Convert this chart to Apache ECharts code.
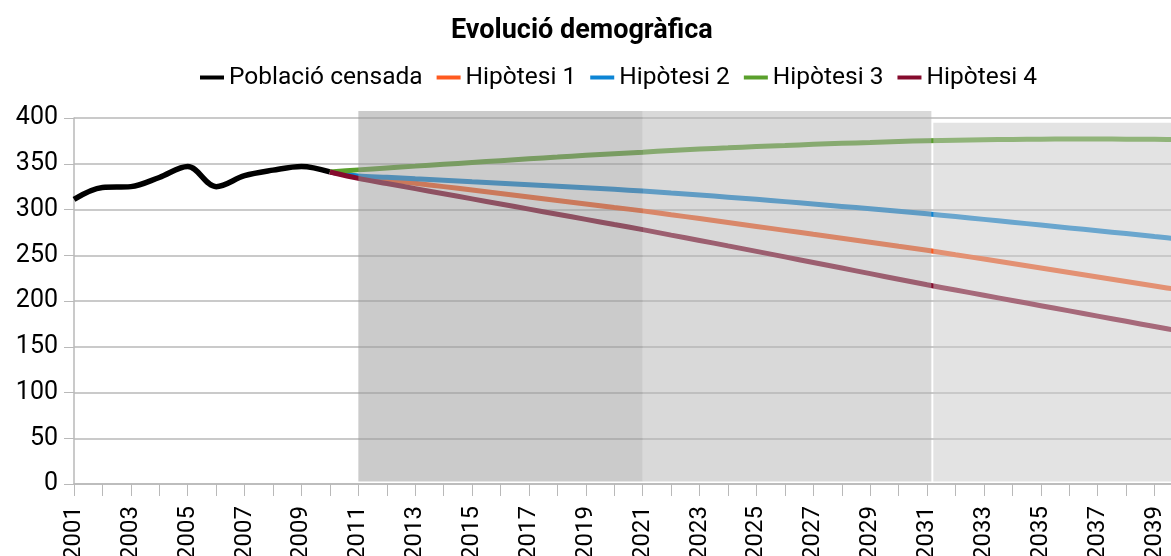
<!DOCTYPE html>
<html>
<head>
<meta charset="utf-8">
<script src="https://cdn.jsdelivr.net/npm/echarts@6/dist/echarts.min.js"></script>
<style>
html, body { margin: 0; padding: 0; background: #fff; }
#chart { width: 1171px; height: 556px; }
</style>
</head>
<body>
<div id="chart"></div>
<script>
// anys de l'eix
const years = ['2001', '2002', '2003', '2004', '2005', '2006', '2007', '2008', '2009', '2010',
  '2011', '2012', '2013', '2014', '2015', '2016', '2017', '2018', '2019', '2020',
  '2021', '2022', '2023', '2024', '2025', '2026', '2027', '2028', '2029', '2030',
  '2031', '2032', '2033', '2034', '2035', '2036', '2037', '2038', '2039', '2040']

// població censada 2001-2010
const poblacio = [311, 324, 325, 335, 347, 325, 337, 343, 347, 341]

// hipòtesis 2010-2040
const hipotesi1 = [341, 336, 332.4, 328.7, 325, 321.3, 317.5, 313.7, 309.9, 306.1, 302.3,
  298.5, 294.3, 290.1, 285.8, 281.5, 277.2, 272.9, 268.6, 264.2, 259.8,
  255.4, 250.6, 245.8, 240.9, 236, 231.1, 226.2, 221.3, 216.4, 211.5]
const hipotesi2 = [341, 336.7, 335.2, 333.6, 332, 330.4, 328.8, 327.1, 325.4, 323.7, 322,
  320.2, 318, 315.8, 313.5, 311.1, 308.6, 306, 303.4, 300.8, 298.1,
  295.3, 292.3, 289.2, 286.1, 283, 279.9, 276.8, 273.7, 270.5, 267.3]
const hipotesi3 = [341, 343.3, 345.4, 347.4, 349.4, 351.4, 353.4, 355.4, 357.3, 359.2, 361,
  362.7, 364.4, 366, 367.4, 368.8, 370, 371.2, 372.3, 373.3, 374.3,
  375.2, 375.8, 376.3, 376.6, 376.9, 377, 377, 376.9, 376.7, 376.5]
const hipotesi4 = [341, 334, 328.4, 322.8, 317.2, 311.6, 306, 300.4, 294.8, 289.2, 283.6,
  278, 272, 266.2, 260.2, 254.2, 248.2, 242.1, 236, 229.9, 223.8,
  217.7, 212, 206.3, 200.6, 194.9, 189.2, 183.5, 177.8, 172.1, 166.4]

// franges grises (inici, final, alçada relativa)
const bandStart = [2011, 2021, 2031.22]
const bandEnd = [2021, 2031.15, 2041]
const bandTop = [100, 100, 96.8]
const bandColors = ['rgba(151,151,151,0.5)', 'rgba(179,179,179,0.5)', 'rgba(199,199,199,0.5)']

const names = ['Població censada', 'Hipòtesi 1', 'Hipòtesi 2', 'Hipòtesi 3', 'Hipòtesi 4']
const colors = ['#000000', '#ff5a1f', '#0d85d5', '#5aa02c', '#850b2d']

const FONT = 'Roboto'
const gridColor = '#b9b9b9'

function pad(n) {
  return new Array(n).fill(null)
}

const chart = echarts.init(document.getElementById('chart'))

const lineSeries = [poblacio.concat(pad(years.length - poblacio.length))]
  .concat([hipotesi1, hipotesi2, hipotesi3, hipotesi4].map(d => pad(years.length - d.length).concat(d)))
  .map((d, i) => ({
    name: names[i],
    type: 'line',
    xAxisIndex: 0,
    yAxisIndex: 0,
    data: d,
    smooth: i === 0 ? 0.35 : 0.3,
    showSymbol: false,
    symbol: 'none',
    z: 2,
    lineStyle: { color: colors[i], width: i === 0 ? 5.5 : 5 },
    itemStyle: { color: colors[i] },
  }))

chart.setOption({
  animation: false,
  backgroundColor: '#fff',
  title: {
    text: 'Evolució demogràfica',
    left: 446,
    top: 13,
    textStyle: { fontFamily: FONT, fontSize: 27, fontWeight: 'bold', color: '#000' },
  },
  legend: {
    data: names,
    top: 60,
    left: 195,
    icon: 'rect',
    itemWidth: 24,
    itemHeight: 4,
    itemGap: 14,
    selectedMode: false,
    textStyle: { fontFamily: FONT, fontSize: 24.5, color: '#000' },
  },
  grid: [
    { left: 74, right: -12, top: 118, bottom: 72, outerBoundsMode: 'none' },
    { left: 74, right: -12, top: 111, bottom: 74.5, outerBoundsMode: 'none' },
  ],
  xAxis: [
    {
      type: 'category',
      gridIndex: 0,
      data: years,
      boundaryGap: false,
      axisLine: { lineStyle: { color: gridColor, width: 1.5 } },
      axisTick: { interval: 0, length: 12, lineStyle: { color: gridColor } },
      axisLabel: {
        interval: 1,
        rotate: 90,
        margin: 22,
        fontFamily: FONT,
        fontSize: 24,
        color: '#000',
      },
      splitLine: { show: false },
    },
    { type: 'value', gridIndex: 1, min: 2001, max: 2040, show: false },
  ],
  yAxis: [
    {
      type: 'value',
      gridIndex: 0,
      min: 0,
      max: 400,
      interval: 50,
      axisLine: { show: true, lineStyle: { color: gridColor, width: 1.5 } },
      axisTick: { show: true, length: 10, lineStyle: { color: gridColor } },
      axisLabel: { margin: 16, fontFamily: FONT, fontSize: 25, color: '#000' },
      splitLine: { lineStyle: { color: gridColor, width: 1.5 } },
    },
    { type: 'value', gridIndex: 1, min: 0, max: 100, show: false },
  ],
  series: lineSeries.concat([
    {
      type: 'custom',
      xAxisIndex: 1,
      yAxisIndex: 1,
      silent: true,
      z: 5,
      data: bandStart.map((s, i) => [s, bandEnd[i], bandTop[i]]),
      encode: { x: [0, 1], y: 2 },
      renderItem: function (params, api) {
        const p0 = api.coord([api.value(0), api.value(2)])
        const p1 = api.coord([api.value(1), 0])
        return {
          type: 'rect',
          shape: { x: p0[0], y: p0[1], width: p1[0] - p0[0], height: p1[1] - p0[1] },
          style: { fill: bandColors[params.dataIndex] },
        }
      },
    },
  ]),
})
</script>
</body>
</html>
